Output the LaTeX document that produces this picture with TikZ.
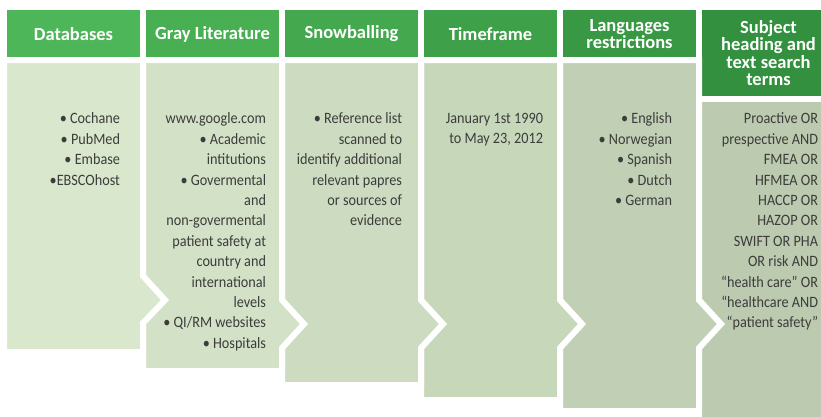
\documentclass[tikz,border=0pt]{standalone}
\usepackage{fontspec}
\setmainfont{Carlito}
\newfontfamily\listfont{Carlito}[FakeStretch=0.9]
\usetikzlibrary{positioning}

\definecolor{head1}{HTML}{4DB658}
\definecolor{head2}{HTML}{48AF53}
\definecolor{head3}{HTML}{43A84E}
\definecolor{head4}{HTML}{3EA049}
\definecolor{head5}{HTML}{389844}
\definecolor{head6}{HTML}{32903F}
\definecolor{body1}{HTML}{D9E8CC}
\definecolor{body2}{HTML}{D3E2C6}
\definecolor{body3}{HTML}{CDDCC0}
\definecolor{body4}{HTML}{C7D7BA}
\definecolor{body5}{HTML}{C1D0B4}
\definecolor{body6}{HTML}{BCCBAF}
\definecolor{ink}{HTML}{3C3C3C}

\begin{document}
\begin{tikzpicture}[x=1pt, y=-1pt, outer sep=0pt,
		head/.style={anchor=north west, minimum width=133pt, minimum height=48pt, inner sep=0pt, align=center, text=white, font=\fontsize{18.5}{17.5}\selectfont\bfseries},
		body/.style={draw=white, line width=6pt, line join=miter},
		list/.style={anchor=north east, inner sep=0pt, align=right, text=ink, font=\listfont\fontsize{15.8}{20.4}\selectfont}]
		\useasboundingbox (0,0) rectangle (821,416);
		\clip (0,0) rectangle (821,416);

		% header row
		\node[head, fill=head1] (dbhead) at (7,10) {Databases};
		\node[head, fill=head2] (greyhead) at ([xshift=6pt]dbhead.north east) {Gray Literature};
		\node[head, fill=head3] (snowhead) at ([xshift=6pt]greyhead.north east) {Snowballing};
		\node[head, fill=head4] (timehead) at ([xshift=6pt]snowhead.north east) {Timeframe};
		\node[head, fill=head5] (langhead) at ([xshift=6pt]timehead.north east) {Languages\\restrictions};
		\node[head, fill=head6, minimum height=86pt] (termhead) at ([xshift=6pt]langhead.north east) {Subject\\heading and\\text search\\terms};

		% bodies, right to left so each arrow sits on top of its neighbour
		\path[body, fill=body6] (699,99) -- (838,99) -- (838,420) -- (699,420) -- cycle;
		\path[body, fill=body5] (560,60) -- (699,60) -- (699,300) -- (721,324) -- (699,348) -- (699,411) -- (560,411) -- cycle;
		\path[body, fill=body4] (421,60) -- (560,60) -- (560,300) -- (582,324) -- (560,348) -- (560,400) -- (421,400) -- cycle;
		\path[body, fill=body3] (282,60) -- (421,60) -- (421,300) -- (443,324) -- (421,348) -- (421,385) -- (282,385) -- cycle;
		\path[body, fill=body2] (143,60) -- (282,60) -- (282,300) -- (304,324) -- (282,348) -- (282,371) -- (143,371) -- cycle;
		\path[body, fill=body1] (4,60) -- (143,60) -- (143,276) -- (165,300) -- (143,323) -- (143,352) -- (4,352) -- cycle;

		% column texts
		\node[list] (dblist) at (120,113) {• Cochane\\• PubMed\\• Embase\\•EBSCOhost};
		\node[list] (greylist) at (266,113) {www.google.com\\• Academic\\intitutions\\• Govermental\\and\\non-govermental\\patient safety at\\country and\\international\\levels\\• QI/RM websites\\• Hospitals};
		\node[list] (snowlist) at (402,113) {• Reference list\\scanned to\\identify additional\\relevant papres\\or sources of\\evidence};
		\node[list] (timelist) at (543,113) {January 1st 1990\\to May 23, 2012};
		\node[list] (langlist) at (672,113) {• English\\• Norwegian\\• Spanish\\• Dutch\\• German};
		\node[list] (termlist) at (818,113) {Proactive OR\\prespective AND\\FMEA OR\\HFMEA OR\\HACCP OR\\HAZOP OR\\SWIFT OR PHA\\OR risk AND\\“health care” OR\\“healthcare AND\\“patient safety”};
	\end{tikzpicture}
\end{document}
